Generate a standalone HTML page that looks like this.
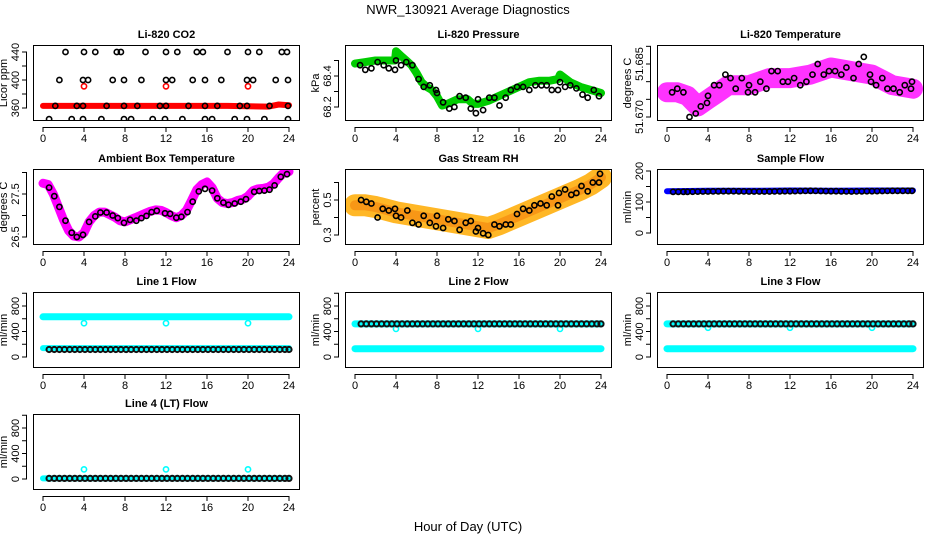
<!DOCTYPE html>
<html><head><meta charset="utf-8"><style>
body{margin:0;background:#fff}
svg{display:block;font-family:"Liberation Sans",sans-serif}
</style></head><body>
<svg id="c" width="936" height="540" viewBox="0 0 936 540">
<text x="468" y="14" text-anchor="middle" font-size="13">NWR_130921  Average Diagnostics</text>
<text x="468" y="531" text-anchor="middle" font-size="13">Hour of Day (UTC)</text>
</svg>
<script>
// ---- data ----
const xTicks=[0,4,8,12,16,20,24];
const co2Band=[[0,363],[6,363],[12,363],[18,363],[22,362],[23,365],[24,364]];
const co2Red=[[4,391],[12,391],[20,391]];
const co2Black=[[2.2,440],[4,440],[5.1,440],[7.2,440],[7.6,440],[10,440],[12,440],[13.1,440],[15,440],[15.6,440],[18,440],[20,440],[21.1,440],[23.3,440],[23.8,440],
[1.6,400],[3.9,400],[4.4,400],[6.8,400],[7.9,400],[9.6,400],[12,400],[12.6,400],[14.6,400],[15.8,400],[17.4,400],[19.9,400],[20.5,400],[22.7,400],[23.9,400],
[1.2,363],[3.3,363],[3.9,363],[6.2,363],[7.9,363],[9.2,363],[11.4,363],[12,363],[14.2,363],[15.8,363],[17,363],[19.2,363],[19.9,363],[22.1,363],[23.9,363],
[0.6,344],[2.8,344],[3.9,344],[5.7,344],[7.9,344],[8.6,344],[10.7,344],[11.9,344],[13.6,344],[15.8,344],[16.5,344],[18.7,344],[19.9,344],[21.6,344],[23.9,344]];
const presBand=[[0,68.48],[1,68.49],[2,68.5],[3,68.5],[3.9,68.5],[4,68.56],[4.5,68.53],[5,68.5],[5.5,68.47],[6,68.42],[6.5,68.36],[7,68.33],[7.5,68.31],[8,68.27],[8.5,68.21],[9,68.22],[10,68.25],[11,68.25],[11.5,68.22],[12,68.22],[13,68.24],[14,68.27],[15,68.3],[16,68.33],[17,68.36],[18,68.37],[19,68.37],[19.8,68.38],[20,68.41],[21,68.36],[22,68.33],[23,68.31],[24,68.29]];
const presBlack=[[0.5,68.47],[1,68.44],[1.6,68.45],[2.2,68.49],[2.8,68.47],[3.3,68.45],[3.9,68.44],[4,68.5],[4.5,68.47],[5,68.49],[5.6,68.47],[6.2,68.38],[6.7,68.33],[7.3,68.34],[7.9,68.31],[8,68.29],[8.6,68.23],[9.2,68.19],[9.7,68.2],[10.2,68.27],[10.8,68.26],[11.3,68.19],[11.8,68.16],[12,68.25],[12.5,68.18],[13.1,68.26],[13.6,68.26],[14.1,68.21],[14.7,68.26],[15.2,68.31],[15.8,68.33],[16.4,68.33],[17,68.31],[17.6,68.34],[18.2,68.34],[18.7,68.34],[19.2,68.31],[19.8,68.31],[20,68.36],[20.5,68.33],[21,68.34],[21.6,68.32],[22.2,68.28],[22.7,68.26],[23.3,68.31],[23.8,68.27]];
const tempBand=[[0,51.677],[1,51.677],[2,51.676],[3,51.673],[4,51.675],[5,51.677],[6,51.679],[8,51.679],[10,51.681],[12,51.681],[14,51.682],[16,51.684],[18,51.683],[20,51.682],[22,51.679],[24,51.678]];
const tempBlack=[[0.5,51.677],[1,51.678],[1.6,51.677],[2.2,51.670],[2.8,51.671],[3.3,51.673],[3.9,51.674],[4,51.676],[4.6,51.679],[5.1,51.679],[5.7,51.682],[6.2,51.681],[6.7,51.678],[7.3,51.681],[7.9,51.677],[8,51.679],[8.6,51.677],[9.1,51.680],[9.7,51.678],[10.2,51.683],[10.8,51.683],[11.3,51.680],[11.8,51.680],[12.4,51.681],[13,51.679],[13.6,51.680],[14.2,51.682],[14.7,51.685],[15.3,51.682],[15.8,51.683],[16.4,51.683],[17,51.682],[17.5,51.684],[18.2,51.681],[18.7,51.685],[19.2,51.687],[19.8,51.682],[19.9,51.680],[20.4,51.679],[21,51.681],[21.5,51.678],[22.1,51.678],[22.7,51.677],[23.2,51.679],[23.8,51.678],[23.9,51.680]];
const boxBand=[[0,27.75],[0.5,27.72],[1,27.5],[1.5,27.2],[2,26.9],[2.5,26.65],[3,26.52],[3.5,26.5],[4,26.6],[4.5,26.85],[5,27.0],[5.5,27.08],[6,27.08],[6.5,27.02],[7,26.96],[7.5,26.88],[8,26.85],[8.5,26.9],[9,26.95],[9.5,27.0],[10,27.05],[10.5,27.1],[11,27.13],[11.5,27.12],[12,27.07],[12.5,27.0],[13,26.95],[13.5,27.0],[14,27.12],[14.5,27.35],[15,27.6],[15.5,27.72],[16,27.78],[16.5,27.65],[17,27.4],[17.5,27.3],[18,27.28],[18.5,27.3],[19,27.35],[19.5,27.38],[20,27.45],[20.5,27.58],[21,27.62],[21.5,27.63],[22,27.66],[22.5,27.74],[23,27.88],[23.5,28.0],[24,28.02]];
const boxBlack=[[0.6,27.65],[1.1,27.45],[1.6,27.2],[2.2,26.88],[2.8,26.6],[3.3,26.5],[3.9,26.55],[4.5,26.85],[5.1,26.98],[5.6,27.07],[6.2,27.07],[6.8,27.0],[7.3,26.94],[7.9,26.83],[8.5,26.9],[9.1,26.88],[9.6,26.94],[10.1,26.99],[10.6,27.08],[11.1,27.11],[11.9,27.05],[12.4,27.04],[13,26.95],[13.5,26.97],[14.1,27.08],[14.6,27.32],[15.2,27.56],[15.8,27.62],[16.5,27.58],[17,27.4],[17.6,27.3],[18.1,27.25],[18.7,27.28],[19.3,27.32],[19.8,27.38],[20.6,27.55],[21.1,27.57],[21.6,27.58],[22.1,27.6],[22.6,27.7],[23.2,27.9],[23.8,27.96]];
const rhBand=[[0,0.47],[1,0.47],[2,0.46],[4,0.43],[6,0.41],[8,0.39],[10,0.37],[12,0.35],[13,0.34],[14,0.36],[16,0.41],[18,0.46],[20,0.51],[22,0.56],[23,0.59],[24,0.63]];
const rhBlack=[[0.6,0.5],[1.1,0.49],[1.6,0.48],[2.2,0.4],[2.7,0.45],[3.3,0.44],[3.9,0.45],[4,0.41],[4.5,0.4],[5.1,0.44],[5.6,0.37],[6.2,0.36],[6.7,0.41],[7.3,0.37],[7.9,0.35],[8,0.41],[8.6,0.34],[9.1,0.39],[9.7,0.38],[10.2,0.33],[10.8,0.37],[11.3,0.38],[11.8,0.32],[12,0.34],[12.5,0.31],[13,0.3],[13.6,0.36],[14.1,0.35],[14.7,0.36],[15.2,0.36],[15.8,0.42],[16.4,0.45],[17,0.44],[17.5,0.47],[18.1,0.48],[18.7,0.47],[19.2,0.52],[19.8,0.47],[19.9,0.54],[20.5,0.56],[21.1,0.53],[21.6,0.54],[22.1,0.58],[22.7,0.55],[23.2,0.6],[23.8,0.6],[23.9,0.65]];
const sampleBand=[[0,135],[4,136],[8,136],[12,137],[16,136],[20,137],[24,137]];
const sampleBlack=[[0.6,133],[2,133],[4,134],[6,135],[8,134],[10,134],[12,135],[14,136],[16,135],[18,134],[20,135],[22,136],[23.9,136]];
const l1Cyan=[[0,630],[24,630]];
const l1CyanLow=[[0,140],[24,140]];
const l1Black=[[0.6,118],[24,118]];
const l1Out=[[4,530],[12,530],[20,530]];
const l2Cyan=[[0,520],[24,520]];
const l2CyanLow=[[0,130],[24,130]];
const l2Black=[[0.6,520],[24,520]];
const l2Out=[[4,440],[12,440],[20,440]];
const l3Cyan=[[0,520],[24,520]];
const l3CyanLow=[[0,130],[24,130]];
const l3Black=[[0.6,520],[24,520]];
const l3Out=[[4,460],[12,460],[20,460]];
const l4Cyan=[[0,10],[24,10]];
const l4Black=[[0.6,10],[24,10]];
const l4Out=[[4,150],[12,150],[20,150]];
const flowTicks=[0,200,400,600,800,1000];
const flowLabels=[0,400,800];

const svg=document.getElementById('c');
const NS='http://www.w3.org/2000/svg';
function mk(tag,attrs,parent){const e=document.createElementNS(NS,tag);for(const k in attrs)e.setAttribute(k,attrs[k]);(parent||svg).appendChild(e);return e;}
function fill(arr,step){
  const out=[];for(let i=0;i<arr.length-1;i++){const [a,va]=arr[i],[b,vb]=arr[i+1];for(let t=a;t<b;t+=step)out.push([t,va+(vb-va)*(t-a)/(b-a)]);}out.push(arr[arr.length-1]);return out;}

function panel(cfg){
  const g=mk('g',{});
  
  
  const L=cfg.x0,R=cfg.x1,T=cfg.y0,B=cfg.y1;
  const x0=L+10,x1=R-11;
  const X=h=>x0+(x1-x0)*h/24;
  const Y=v=>cfg.py0+(cfg.py1-cfg.py0)*(v-cfg.v0)/(cfg.v1-cfg.v0);
  const t=mk('text',{x:(L+R)/2,y:T-7,'text-anchor':'middle','font-size':11,'font-weight':'bold'},g);t.textContent=cfg.title;
  
  const cp='cp'+cfg.name;
  const cl=mk('clipPath',{id:cp},g);mk('rect',{x:L,y:T,width:R-L,height:B-T},cl);
  const d=mk('g',{'clip-path':'url(#'+cp+')'},g);
  (cfg.bands||[]).forEach(bd=>{
    const pts=bd.data.map(p=>X(p[0]).toFixed(1)+','+Y(p[1]).toFixed(1)).join(' ');
    const pl=mk('polyline',{points:pts,fill:'none',stroke:bd.color,'stroke-width':bd.w,'stroke-linecap':'round','stroke-linejoin':'round',opacity:bd.op||1},d);
    
  });
  (cfg.pts||[]).forEach(ps=>{
    const data=ps.step?fill(ps.data,ps.step):ps.data;
    data.forEach(p=>{
      const c=mk('circle',{cx:X(p[0]).toFixed(1),cy:Y(p[1]).toFixed(1),r:2.6,fill:'none',stroke:ps.color,'stroke-width':ps.sw||1.6},d);
      
    });
  });
  mk('rect',{x:L+.5,y:T+.5,width:R-L-1,height:B-T-1,fill:'none',stroke:'#000','stroke-width':1},g);
  const ax=mk('g',{},g);
  mk('line',{x1:X(0),x2:X(24),y1:B+6.5,y2:B+6.5,stroke:'#000'},ax);
  xTicks.forEach(h=>{mk('line',{x1:X(h),x2:X(h),y1:B+6,y2:B+11,stroke:'#000'},ax);
    const tl=mk('text',{x:X(h),y:B+21,'text-anchor':'middle','font-size':11},ax);tl.textContent=h;});
  const ay=mk('g',{},g);
  const yt=cfg.ticks;
  mk('line',{x1:L-6.5,x2:L-6.5,y1:Y(yt[0]),y2:Y(yt[yt.length-1]),stroke:'#000'},ay);
  yt.forEach(v=>mk('line',{x1:L-11,x2:L-6,y1:Y(v),y2:Y(v),stroke:'#000'},ay));
  cfg.labels.forEach(v=>{const yy=Y(v);const tl=mk('text',{x:L-14,y:yy,'text-anchor':'middle','font-size':11,transform:`rotate(-90 ${L-14} ${yy})`},ay);tl.textContent=cfg.fmt?cfg.fmt(v):v;});
  const yl=mk('text',{x:L-26,y:(T+B)/2,'text-anchor':'middle','font-size':11,transform:`rotate(-90 ${L-26} ${(T+B)/2})`},g);yl.textContent=cfg.ylab;
  
}
const C1=[33,300],C2=[345,612],C3=[657,924];
const R1=[45,121],R2=[169,245],R3=[292,368],R4=[414,490];
const flowCfg=(name,title,col,row)=>({name,title,x0:col[0],x1:col[1],y0:row[0],y1:row[1],v0:0,v1:800,py0:row[1]-11,py1:row[0]+14,ticks:flowTicks,labels:flowLabels,ylab:'ml/min'});
panel({name:'co2',title:'Li-820 CO2',x0:C1[0],x1:C1[1],y0:R1[0],y1:R1[1],v0:360,v1:440,py0:108,py1:52,ticks:[360,380,400,420,440],labels:[360,400,440],ylab:'Licor ppm',
  bands:[{data:co2Band,color:'#f00',w:6}],pts:[{data:co2Red,color:'#f00'},{data:co2Black,color:'#000'}]});
panel({name:'pressure',title:'Li-820 Pressure',x0:C2[0],x1:C2[1],y0:R1[0],y1:R1[1],v0:68.2,v1:68.4,py0:107,py1:76,ticks:[68.2,68.3,68.4,68.5],labels:[68.2,68.4],fmt:v=>v.toFixed(1),ylab:'kPa',
  bands:[{data:presBand,color:'#0c0',w:8}],pts:[{data:presBlack,color:'#000'}]});
panel({name:'licor-temp',title:'Li-820 Temperature',x0:C3[0],x1:C3[1],y0:R1[0],y1:R1[1],v0:51.670,v1:51.685,py0:117,py1:64,ticks:[51.670,51.675,51.680,51.685,51.690],labels:[51.670,51.685],fmt:v=>v.toFixed(3),ylab:'degrees C',
  bands:[{data:tempBand,color:'#f0f',w:20,op:0.8}],pts:[{data:tempBlack,color:'#000'}]});
panel({name:'box-temp',title:'Ambient Box Temperature',x0:C1[0],x1:C1[1],y0:R2[0],y1:R2[1],v0:26.5,v1:27.5,py0:237,py1:194,ticks:[26.5,27,27.5,28],labels:[26.5,27.5],fmt:v=>v.toFixed(1),ylab:'degrees C',
  bands:[{data:boxBand,color:'#f0f',w:9}],pts:[{data:boxBlack,color:'#000'}]});
panel({name:'rh',title:'Gas Stream RH',x0:C2[0],x1:C2[1],y0:R2[0],y1:R2[1],v0:0.3,v1:0.5,py0:235,py1:200,ticks:[0.3,0.4,0.5,0.6],labels:[0.3,0.5],fmt:v=>v.toFixed(1),ylab:'percent',
  bands:[{data:rhBand,color:'#fa0',w:22,op:0.85},{data:rhBand,color:'#e60',w:10,op:0.4}],pts:[{data:rhBlack,color:'#000'}]});
panel({name:'sample-flow',title:'Sample Flow',x0:C3[0],x1:C3[1],y0:R2[0],y1:R2[1],v0:0,v1:200,py0:233,py1:171,ticks:[0,50,100,150,200],labels:[0,100,200],ylab:'ml/min',
  bands:[{data:sampleBand,color:'#00f',w:6}],pts:[{data:sampleBlack,color:'#000',step:0.5}]});
let c=flowCfg('line1-flow','Line 1 Flow',C1,R3);c.bands=[{data:l1Cyan,color:'#0ff',w:7},{data:l1CyanLow,color:'#0ff',w:6}];c.pts=[{data:l1Out,color:'#0ff'},{data:l1Black,color:'#111',step:0.5,sw:2}];panel(c);
c=flowCfg('line2-flow','Line 2 Flow',C2,R3);c.bands=[{data:l2Cyan,color:'#0ff',w:7},{data:l2CyanLow,color:'#0ff',w:7}];c.pts=[{data:l2Out,color:'#0ff'},{data:l2Black,color:'#111',step:0.5,sw:2}];panel(c);
c=flowCfg('line3-flow','Line 3 Flow',C3,R3);c.bands=[{data:l3Cyan,color:'#0ff',w:7},{data:l3CyanLow,color:'#0ff',w:7}];c.pts=[{data:l3Out,color:'#0ff'},{data:l3Black,color:'#111',step:0.5,sw:2}];panel(c);
c=flowCfg('line4-flow','Line 4 (LT) Flow',C1,R4);c.bands=[{data:l4Cyan,color:'#0ff',w:6}];c.pts=[{data:l4Out,color:'#0ff'},{data:l4Black,color:'#111',step:0.5,sw:2}];panel(c);
</script>
</body></html>
